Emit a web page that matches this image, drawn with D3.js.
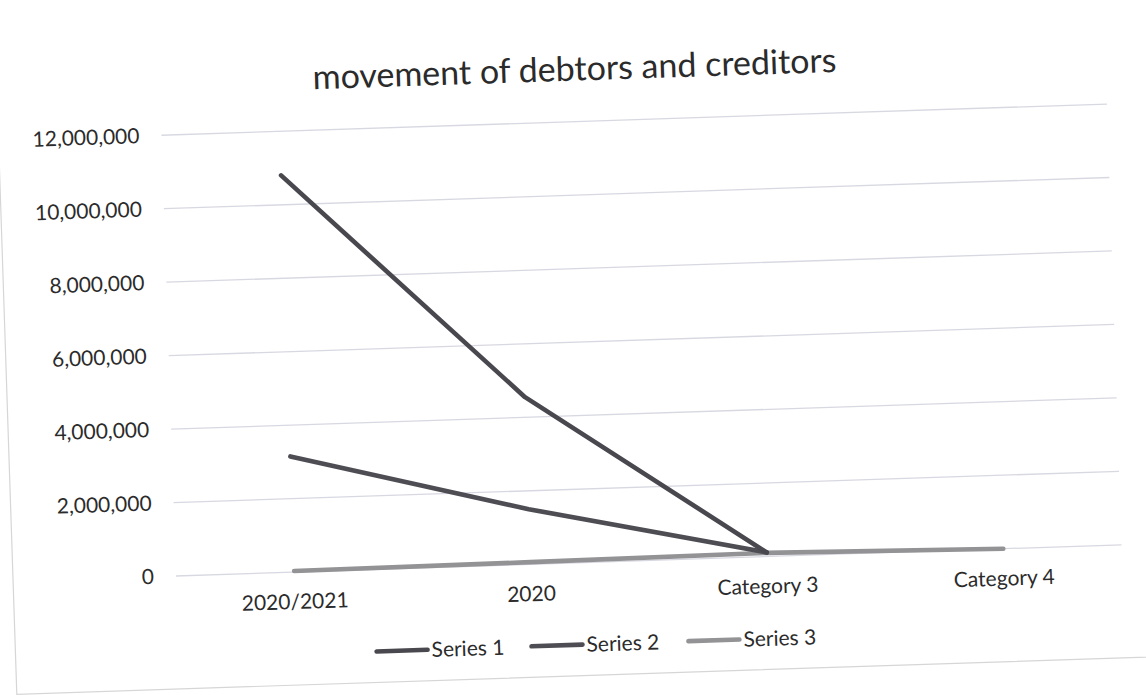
<!DOCTYPE html>
<html>
<head>
<meta charset="utf-8">
<script src="https://cdn.jsdelivr.net/npm/d3@7"></script>
<style>
  html, body { margin: 0; padding: 0; background: #ffffff; }
  svg { display: block; }
  text { font-family: Lato, "Open Sans", sans-serif; fill: #2b2b2b; }
</style>
</head>
<body>
<svg id="chart" width="1146" height="695"></svg>
<script>
// Chart data
const categories = ["2020/2021", "2020", "Category 3", "Category 4"];
const series1 = [10800000, 4550000, 110000, null];
const series2 = [3150000, 1500000, 110000, null];
const series3 = [30000, 60000, 100000, 0];
const seriesNames = ["Series 1", "Series 2", "Series 3"];
const yTicks = [0, 2000000, 4000000, 6000000, 8000000, 10000000, 12000000];
const title = "movement of debtors and creditors";

const seriesColors = ["#48484e", "#4d4d53", "#939396"];

const plotW = 946, plotH = 441;
const tilt = -1.89; // the printed sheet sits slightly askew

const svg = d3.select("#chart");
svg.append("rect").attr("width", 1146).attr("height", 695).attr("fill", "#fff");

const g = svg.append("g")
  .attr("transform", `translate(176,576) rotate(${tilt})`);

// chart-area frame
g.append("rect")
  .attr("x", -163).attr("y", -620)
  .attr("width", 1168).attr("height", 733)
  .attr("fill", "none").attr("stroke", "#d6d6d6").attr("stroke-width", 1.2);

const x = d3.scaleBand().domain(categories).range([0, plotW]).padding(0);
const y = d3.scaleLinear().domain([0, 12000000]).range([0, -plotH]);
const cx = c => x(c) + x.bandwidth() / 2;

// gridlines
g.append("g").selectAll("line").data(yTicks).join("line")
  .attr("x1", 0).attr("x2", plotW)
  .attr("y1", d => y(d)).attr("y2", d => y(d))
  .attr("stroke", "#d8d8e2").attr("stroke-width", 1.3);

// y axis labels
const yAxis = d3.axisLeft(y).tickValues(yTicks)
  .tickFormat(d3.format(",")).tickSize(0).tickPadding(22);
const ya = g.append("g").call(yAxis);
ya.select(".domain").remove();
ya.selectAll("text").attr("font-size", 21).attr("font-family", "Lato, sans-serif").attr("fill", "#2b2b2b");

// category labels
const xAxis = d3.axisBottom(x).tickSize(0).tickPadding(22);
const xa = g.append("g").call(xAxis);
xa.select(".domain").remove();
xa.selectAll("text").attr("font-size", 21).attr("font-family", "Lato, sans-serif").attr("fill", "#2b2b2b");

// series lines
const line = d3.line()
  .defined(d => d.v !== null)
  .x(d => cx(d.c))
  .y(d => y(d.v));

const allSeries = [series3, series2, series1];
const order = [2, 1, 0];
allSeries.forEach((vals, k) => {
  const i = order[k];
  g.append("path")
    .datum(categories.map((c, j) => ({ c, v: vals[j] })))
    .attr("d", line)
    .attr("fill", "none")
    .attr("stroke", seriesColors[i])
    .attr("stroke-width", 4.6)
    .attr("stroke-linecap", "round")
    .attr("stroke-linejoin", "round");
});

// title
g.append("text")
  .attr("x", 415).attr("y", -482)
  .attr("text-anchor", "middle")
  .attr("font-size", 34)
  .text(title);

// legend
const legendX = [198, 353, 510];
const leg = g.append("g").attr("transform", "translate(0,82)");
seriesNames.forEach((name, i) => {
  leg.append("line")
    .attr("x1", legendX[i]).attr("x2", legendX[i] + 51)
    .attr("y1", 0).attr("y2", 0)
    .attr("stroke", seriesColors[i]).attr("stroke-width", 4.6)
    .attr("stroke-linecap", "round");
  leg.append("text")
    .attr("x", legendX[i] + 55).attr("y", 0)
    .attr("dy", "0.35em")
    .attr("font-size", 21)
    .text(name);
});
</script>
</body>
</html>
